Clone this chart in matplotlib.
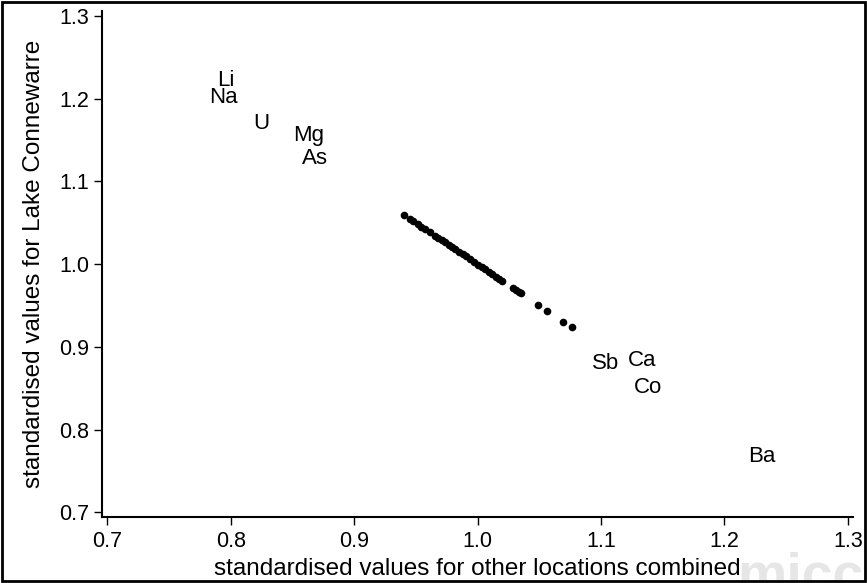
import matplotlib.pyplot as plt
from matplotlib.patches import Rectangle

plt.rcParams['font.family'] = ['Liberation Sans', 'DejaVu Sans']

# element labels placed at their standardised values
elements = ['Li', 'Na', 'U', 'Mg', 'As', 'Sb', 'Ca', 'Co', 'Ba']
elem_x = [0.796, 0.794, 0.825, 0.863, 0.868, 1.104, 1.133, 1.138, 1.230]
elem_y = [1.222, 1.202, 1.170, 1.155, 1.128, 0.880, 0.884, 0.851, 0.767]

# remaining elements, drawn as dots
dot_x = [0.9404, 0.9453, 0.9477, 0.9518, 0.9542, 0.9575, 0.9615, 0.9656,
         0.9680, 0.9712, 0.9737, 0.9769, 0.9793, 0.9818, 0.9850, 0.9882,
         0.9907, 0.9939, 0.9972, 1.0004, 1.0037, 1.0061, 1.0093, 1.0118,
         1.0150, 1.0174, 1.0198, 1.0288, 1.0312, 1.0336, 1.0352, 1.0490,
         1.0563, 1.0693, 1.0765]
dot_y = [1.0590, 1.0545, 1.0520, 1.0480, 1.0455, 1.0425, 1.0385, 1.0345,
         1.0320, 1.0290, 1.0265, 1.0230, 1.0205, 1.0180, 1.0150, 1.0120,
         1.0095, 1.0060, 1.0030, 0.9995, 0.9965, 0.9940, 0.9905, 0.9880,
         0.9850, 0.9825, 0.9800, 0.9710, 0.9690, 0.9665, 0.9650, 0.9505,
         0.9435, 0.9305, 0.9240]

ticks = [0.7, 0.8, 0.9, 1.0, 1.1, 1.2, 1.3]

fig = plt.figure(figsize=(8.67, 5.83), dpi=100)
ax = fig.add_axes([0.1173, 0.1127, 0.8662, 0.8689])

ax.plot(dot_x, dot_y, 'o', color='black', ms=5.5, mew=0)
for name, x, y in zip(elements, elem_x, elem_y):
    ax.text(x, y, name, fontsize=16, ha='center', va='center')

ax.set_xlim(0.6955, 1.304)
ax.set_ylim(0.694, 1.3064)
ax.set_xticks(ticks)
ax.set_yticks(ticks)
ax.set_xticklabels([f'{t:.1f}' for t in ticks])
ax.set_yticklabels([f'{t:.1f}' for t in ticks])
ax.tick_params(labelsize=15.5, length=6, width=1, color='black')
ax.tick_params(axis='x', pad=4)
ax.tick_params(axis='y', pad=3)

for side in ['top', 'right']:
    ax.spines[side].set_visible(False)
for side in ['left', 'bottom']:
    ax.spines[side].set_linewidth(1.5)

ax.set_xlabel('standardised values for other locations combined', fontsize=17.5, labelpad=4)
ax.set_ylabel('standardised values for Lake Connewarre', fontsize=17.5, labelpad=10)

# faint watermark in the lower right corner, running off the edge
fig.text(0.85, -0.035, 'miccion', fontsize=40, color='#e6e6e6',
         ha='left', va='bottom', fontweight='bold', zorder=0)

# black frame round the whole figure
fig.patches.append(Rectangle((0.002, 0.004), 0.996, 0.993, transform=fig.transFigure,
                             fill=False, edgecolor='black', linewidth=2))

fig.savefig('out.png', dpi=100)
